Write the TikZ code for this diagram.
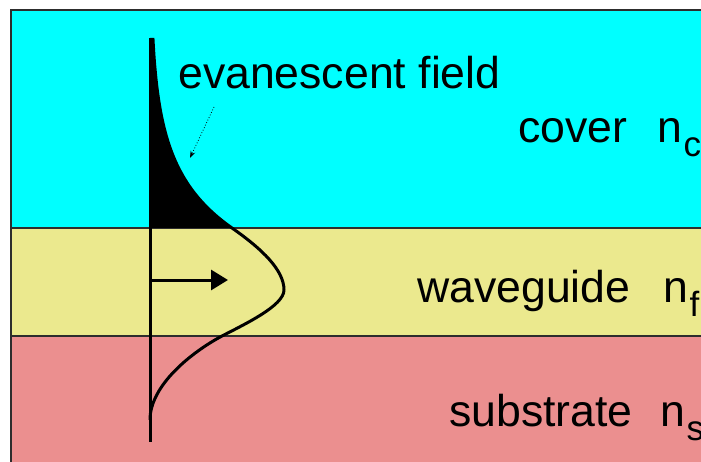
\documentclass[tikz,border=0pt]{standalone}
\usepackage{fontspec}
\setmainfont{Liberation Sans}
\usetikzlibrary{arrows.meta}
\definecolor{covercol}{RGB}{0,255,255}
\definecolor{guidecol}{RGB}{235,233,142}
\definecolor{subcol}{RGB}{235,143,143}
\definecolor{edgecol}{RGB}{45,45,45}
\tikzset{
  layer/.style={draw=edgecol, line width=1.3pt},
  lbl/.style={anchor=base west, inner sep=0pt, font=\fontsize{44.6}{50}\selectfont},
  field/.style={line width=3pt, line join=round},
}
\newcommand{\subs}[1]{\kern1.5pt\raisebox{-14pt}{\fontsize{35}{35}\selectfont #1}}
\begin{document}
\begin{tikzpicture}[x=1pt,y=-1pt]
\useasboundingbox (0,0) rectangle (701,462);
\clip (0,0) rectangle (701,462);
\fill[white] (0,0) rectangle (701,462);
% layers
\filldraw[layer, fill=covercol] (11,10) rectangle (710,228);
\filldraw[layer, fill=guidecol] (11,228) rectangle (710,336);
\filldraw[layer, fill=subcol] (11,336) rectangle (710,470);
% evanescent fill
\fill[black] (150,38) -- plot[domain=38:228, samples=60, variable=\t] ({150+82*exp((\t-228)/57)}, \t) -- (150,228) -- cycle;
% field curve
\draw[field] plot[domain=38:228, samples=60, variable=\t] ({150+82*exp((\t-228)/57)}, \t)
  .. controls (262,249) and (284,270) .. (284,290)
  .. controls (284,306) and (243,325) .. (222,336)
  .. controls (192,352) and (150,385) .. (150,420);
% axis
\coordinate (axtop) at (150,38);
\coordinate (axbot) at (150,442);
\draw[line width=3pt] (axtop) -- (axbot);
% propagation arrow
\coordinate (pa) at (150,280);
\coordinate (pb) at (228,280);
\draw[line width=3pt, -{Triangle[length=17pt,width=20pt]}] (pa) -- (pb);
% labels
\node[lbl] (evan) at (178,89) {evanescent field};
\node[lbl] (cover) at (518,143) {cover};
\node[lbl] (nc) at (657,143) {n\subs{c}};
\node[lbl] (guide) at (417,302) {waveguide};
\node[lbl] (nf) at (663,302) {n\subs{f}};
\node[lbl] (sub) at (449,426) {substrate};
\node[lbl] (ns) at (660,426) {n\subs{s}};
% dotted pointer
\coordinate (da) at (214,107);
\coordinate (db) at (190,158);
\draw[line width=0.8pt, dotted, -{Stealth[length=7pt,width=5pt]}] (da) -- (db);
\end{tikzpicture}
\end{document}
